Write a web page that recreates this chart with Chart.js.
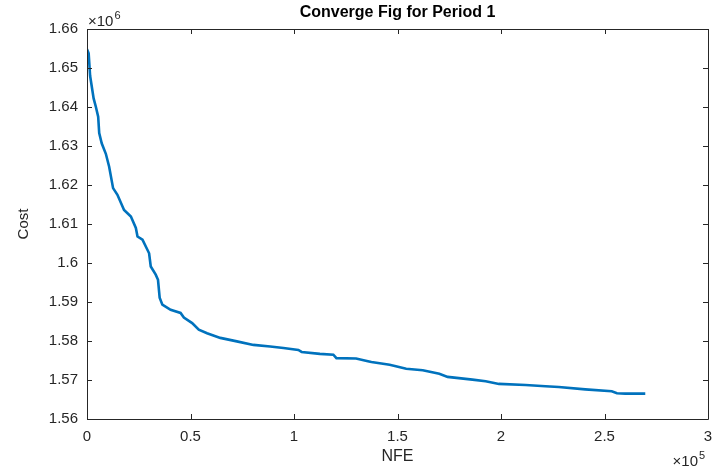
<!DOCTYPE html>
<html>
<head>
<meta charset="utf-8">
<script src="https://cdn.jsdelivr.net/npm/chart.js@4/dist/chart.umd.min.js"></script>
<style>
  html, body { margin: 0; padding: 0; background: #fff; }
  #wrap { width: 713px; height: 472px; }
</style>
</head>
<body>
<div id="wrap"><canvas id="grafico1" width="713" height="472"></canvas></div>
<script>
// NFE (function evaluations) and best cost
var nfe = [0, 800, 1500, 3200, 4300, 5400, 5900, 7100, 9100, 10700, 12600, 14700,
    17900, 21200, 23600, 24400, 26800, 30000, 30800, 33200, 34300, 35100, 36400,
    40400, 45200, 46800, 50800, 54000, 58000, 64400, 72400, 80400, 88500, 94900,
    102100, 103700, 112500, 119000, 120500, 130000, 135700, 137400, 146200, 154200,
    162200, 170200, 174200, 186200, 192600, 199000, 211900, 221500, 227900, 240700,
    253500, 256000, 260000, 269700];
var cost = [1654800, 1653800, 1648000, 1642200, 1640000, 1637500, 1633300, 1630700,
    1628000, 1624700, 1619200, 1617500, 1613600, 1611900, 1609000, 1606800, 1606000,
    1602500, 1599100, 1597000, 1595700, 1591100, 1589300, 1588000, 1587200, 1586000,
    1584600, 1582900, 1582000, 1580800, 1579900, 1579000, 1578600, 1578200, 1577700,
    1577200, 1576700, 1576500, 1575600, 1575500, 1574800, 1574600, 1573900, 1572900,
    1572500, 1571600, 1570800, 1570100, 1569700, 1569000, 1568700, 1568400, 1568200,
    1567600, 1567100, 1566600, 1566500, 1566500];

var xTicks = [0, 50000, 100000, 150000, 200000, 250000, 300000];
var xTickLabels = ['0', '0.5', '1', '1.5', '2', '2.5', '3'];
var yTicks = [1560000, 1570000, 1580000, 1590000, 1600000, 1610000, 1620000, 1630000, 1640000, 1650000, 1660000];
var yTickLabels = ['1.56', '1.57', '1.58', '1.59', '1.6', '1.61', '1.62', '1.63', '1.64', '1.65', '1.66'];

var textCor = '#262626';
var fonte = '"Liberation Sans", Arial, Helvetica, sans-serif';

var pontos = [];
for (var i = 0; i < nfe.length; i++) {
    pontos.push({ x: nfe[i], y: cost[i] });
}

// box around the axes with inward ticks on all sides, plus the x10^n labels
var eixoMatlab = {
    id: 'eixoMatlab',
    afterDatasetsDraw: function (chart) {
        var ctx = chart.ctx;
        var a = chart.chartArea;
        var sx = chart.scales.x, sy = chart.scales.y;
        var tl = 5;
        ctx.save();
        ctx.strokeStyle = textCor;
        ctx.lineWidth = 1;
        ctx.beginPath();
        ctx.rect(Math.round(a.left) + 0.5, Math.round(a.top) + 0.5,
            Math.round(a.right - a.left), Math.round(a.bottom - a.top));
        xTicks.forEach(function (v) {
            var px = Math.round(sx.getPixelForValue(v)) + 0.5;
            ctx.moveTo(px, a.bottom); ctx.lineTo(px, a.bottom - tl);
            ctx.moveTo(px, a.top); ctx.lineTo(px, a.top + tl);
        });
        yTicks.forEach(function (v) {
            var py = Math.round(sy.getPixelForValue(v)) + 0.5;
            ctx.moveTo(a.left, py); ctx.lineTo(a.left + tl, py);
            ctx.moveTo(a.right, py); ctx.lineTo(a.right - tl, py);
        });
        ctx.stroke();

        ctx.fillStyle = textCor;
        ctx.textBaseline = 'alphabetic';
        ctx.textAlign = 'left';
        ctx.font = '15px ' + fonte;
        ctx.fillText('\u00d710', a.left + 1, a.top - 3);
        var w = ctx.measureText('\u00d710').width;
        ctx.font = '11px ' + fonte;
        ctx.fillText('6', a.left + 1 + w + 1, a.top - 10);

        ctx.font = '15px ' + fonte;
        var w2 = ctx.measureText('\u00d710').width;
        ctx.fillText('\u00d710', a.right - w2 - 10, chart.height - 6);
        ctx.font = '11px ' + fonte;
        ctx.fillText('5', a.right - 9, chart.height - 13);
        ctx.restore();
    }
};

var graf = document.getElementById('grafico1');
var grafico = new Chart(graf, {
    type: 'scatter',
    data: {
        datasets: [{
            label: 'Cost',
            data: pontos,
            showLine: true,
            borderColor: '#0072BD',
            backgroundColor: '#0072BD',
            borderWidth: 2.6,
            pointRadius: 0,
            tension: 0
        }]
    },
    options: {
        responsive: false,
        animation: false,
        devicePixelRatio: 1,
        layout: { padding: { left: 0, right: 5, top: 0, bottom: 0 } },
        plugins: {
            legend: { display: false },
            tooltip: { enabled: false },
            title: {
                display: true,
                text: 'Converge Fig for Period 1',
                fullSize: false,
                color: '#000',
                font: { family: fonte, size: 16, weight: 'bold' },
                padding: { top: 3, bottom: 6.8 }
            }
        },
        scales: {
            x: {
                type: 'linear',
                min: 0,
                max: 300000,
                grid: { display: false, drawTicks: false },
                border: { display: false },
                afterBuildTicks: function (scale) {
                    scale.ticks = xTicks.map(function (v) { return { value: v }; });
                },
                afterFit: function (scale) {
                    scale.height = 53;
                    scale.paddingLeft = 0;
                    scale.paddingRight = 0;
                },
                ticks: {
                    padding: 9,
                    color: textCor,
                    maxRotation: 0,
                    font: { family: fonte, size: 15 },
                    callback: function (v, i) { return xTickLabels[i]; }
                },
                title: {
                    display: true,
                    text: 'NFE',
                    color: textCor,
                    font: { family: fonte, size: 16 },
                    padding: { top: 0, bottom: 6 }
                }
            },
            y: {
                type: 'linear',
                min: 1560000,
                max: 1660000,
                grid: { display: false, drawTicks: false },
                border: { display: false },
                afterBuildTicks: function (scale) {
                    scale.ticks = yTicks.map(function (v) { return { value: v }; });
                },
                afterFit: function (scale) {
                    scale.width = 87;
                    scale.paddingTop = 0;
                    scale.paddingBottom = 0;
                },
                ticks: {
                    padding: 9,
                    color: textCor,
                    font: { family: fonte, size: 15 },
                    callback: function (v, i) { return yTickLabels[i]; }
                },
                title: {
                    display: true,
                    text: 'Cost',
                    color: textCor,
                    font: { family: fonte, size: 15 },
                    padding: { top: 15, bottom: 0 }
                }
            }
        }
    },
    plugins: [eixoMatlab]
});
</script>
</body>
</html>
